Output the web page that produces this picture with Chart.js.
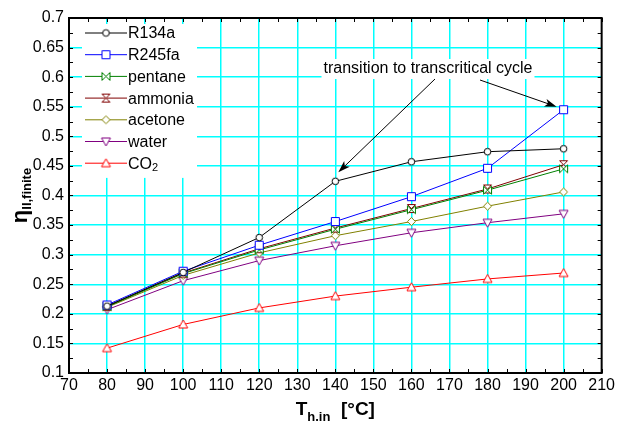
<!DOCTYPE html>
<html><head><meta charset="utf-8">
<script src="https://cdn.jsdelivr.net/npm/chart.js@4"></script>
<style>html,body{margin:0;padding:0;background:#fff}</style>
</head><body>
<canvas id="ch1" width="618" height="425"></canvas>
<script>
// data
var temps = [80, 100, 120, 140, 160, 180, 200];
var names = ['R134a', 'R245fa', 'pentane', 'ammonia', 'acetone', 'water', 'CO2'];
var r134a   = [0.213, 0.270, 0.329, 0.424, 0.457, 0.474, 0.479];
var r245fa  = [0.215, 0.272, 0.316, 0.356, 0.398, 0.446, 0.545];
var pentane = [0.212, 0.268, 0.308, 0.343, 0.376, 0.409, 0.445];
var ammonia = [0.213, 0.269, 0.310, 0.345, 0.378, 0.411, 0.452];
var acetone = [0.211, 0.265, 0.303, 0.332, 0.356, 0.382, 0.406];
var water   = [0.207, 0.256, 0.290, 0.315, 0.337, 0.354, 0.369];
var co2     = [0.142, 0.182, 0.210, 0.230, 0.245, 0.259, 0.269];
var series = [r134a, r245fa, pentane, ammonia, acetone, water, co2];
var colors = ['#000000', '#0000ff', '#008000', '#800000', '#808000', '#800080', '#ff0000'];
var shapes = ['circle', 'square', 'bowtie', 'hourglass', 'diamond', 'down', 'up'];
var xTicks = [70, 210, 10];
var yTicks = [0.1, 0.7, 0.05];
var noteText = 'transition to transcritical cycle';

// marker pictures, used both on the lines and in the legend
function makeMarker(shape, color) {
  var c = document.createElement('canvas');
  c.width = 13; c.height = 13;
  var g = c.getContext('2d');
  g.strokeStyle = color; g.fillStyle = '#fff'; g.lineWidth = 1;
  g.beginPath();
  var m = 6.5;
  if (shape == 'circle') { g.arc(m, m, 3.3, 0, Math.PI * 2); }
  else if (shape == 'square') { g.rect(m - 4, m - 4, 8, 8); }
  else if (shape == 'diamond') { g.moveTo(m, m - 4); g.lineTo(m + 4, m); g.lineTo(m, m + 4); g.lineTo(m - 4, m); g.closePath(); }
  else if (shape == 'up') { g.moveTo(m, m - 4.5); g.lineTo(m + 4.5, m + 3.5); g.lineTo(m - 4.5, m + 3.5); g.closePath(); }
  else if (shape == 'down') { g.moveTo(m, m + 4.5); g.lineTo(m + 4.5, m - 3.5); g.lineTo(m - 4.5, m - 3.5); g.closePath(); }
  else if (shape == 'bowtie') { g.moveTo(m - 4, m - 4); g.lineTo(m + 4, m + 4); g.lineTo(m + 4, m - 4); g.lineTo(m - 4, m + 4); g.closePath(); }
  else if (shape == 'hourglass') { g.moveTo(m - 4, m - 4); g.lineTo(m + 4, m - 4); g.lineTo(m - 4, m + 4); g.lineTo(m + 4, m + 4); g.closePath(); }
  g.fill(); g.stroke();
  return c;
}

var markers = [];
var datasets = [];
for (var i = 0; i < names.length; i++) {
  markers.push(makeMarker(shapes[i], colors[i]));
  var pts = [];
  for (var j = 0; j < temps.length; j++) pts.push({x: temps[j], y: series[i][j]});
  datasets.push({
    label: names[i], data: pts,
    borderColor: colors[i], borderWidth: 1,
    pointStyle: markers[i], pointRadius: 5, pointHoverRadius: 5
  });
}

function edgeGrid(ctx) { // hide grid on the frame lines
  var s = ctx.scale;
  if (ctx.tick && (ctx.tick.value <= s.min + 1e-9 || ctx.tick.value >= s.max - 1e-9)) return 'rgba(0,0,0,0)';
  return '#00ffff';
}

function drawSubText(ctx, parts, x, y, align) {
  // parts: [text, font, dy]
  var w = 0;
  parts.forEach(function(p){ ctx.font = p[1]; w += ctx.measureText(p[0]).width; });
  var sx = align == 'center' ? x - w / 2 : x;
  ctx.textAlign = 'left';
  parts.forEach(function(p){ ctx.font = p[1]; ctx.fillText(p[0], sx, y + p[2]); sx += ctx.measureText(p[0]).width; });
}

function arrow(ctx, x1, y1, x2, y2) {
  var a = Math.atan2(y2 - y1, x2 - x1);
  ctx.beginPath(); ctx.moveTo(x1, y1); ctx.lineTo(x2 - 8 * Math.cos(a), y2 - 8 * Math.sin(a)); ctx.stroke();
  ctx.beginPath();
  ctx.moveTo(x2, y2);
  ctx.lineTo(x2 - 12 * Math.cos(a) + 4 * Math.sin(a), y2 - 12 * Math.sin(a) - 4 * Math.cos(a));
  ctx.lineTo(x2 - 9 * Math.cos(a), y2 - 9 * Math.sin(a));
  ctx.lineTo(x2 - 12 * Math.cos(a) - 4 * Math.sin(a), y2 - 12 * Math.sin(a) + 4 * Math.cos(a));
  ctx.closePath(); ctx.fill();
}

var extras = {
  id: 'extras',
  afterDraw: function(chart) {
    var ctx = chart.ctx, a = chart.chartArea;
    var xs = chart.scales.x, ys = chart.scales.y;
    ctx.save();
    ctx.strokeStyle = '#000'; ctx.fillStyle = '#000';
    // small ticks inward on all four sides
    ctx.lineWidth = 1;
    ctx.beginPath();
    for (var v = xTicks[0]; v <= xTicks[1] + 1e-9; v += xTicks[2] / 2) {
      var px = Math.round(xs.getPixelForValue(v)) + 0.5;
      ctx.moveTo(px, a.bottom); ctx.lineTo(px, a.bottom - 4);
      ctx.moveTo(px, a.top); ctx.lineTo(px, a.top + 4);
    }
    for (var v = yTicks[0]; v <= yTicks[1] + 1e-9; v += yTicks[2] / 2) {
      var py = Math.round(ys.getPixelForValue(v)) + 0.5;
      ctx.moveTo(a.left, py); ctx.lineTo(a.left + 4, py);
      ctx.moveTo(a.right, py); ctx.lineTo(a.right - 4, py);
    }
    ctx.stroke();
    ctx.lineWidth = 2;
    ctx.strokeRect(a.left, a.top, a.right - a.left, a.bottom - a.top);

    // legend
    var lx = a.left + 16, ly = a.top + 15, step = 21.7;
    ctx.fillStyle = '#fff';
    ctx.fillRect(lx - 3, ly - 9, 115, step * names.length + 2);
    ctx.textBaseline = 'middle';
    for (var i = 0; i < names.length; i++) {
      var yy = ly + i * step;
      ctx.strokeStyle = colors[i]; ctx.lineWidth = 1;
      ctx.beginPath(); ctx.moveTo(lx, yy); ctx.lineTo(lx + 42, yy); ctx.stroke();
      ctx.drawImage(markers[i], lx + 21 - 6.5, yy - 6.5);
      ctx.fillStyle = '#000';
      if (names[i] == 'CO2') drawSubText(ctx, [['CO', '16px "Liberation Sans"', 1], ['2', '11px "Liberation Sans"', 5]], lx + 43, yy, 'left');
      else drawSubText(ctx, [[names[i], '16px "Liberation Sans"', 1]], lx + 43, yy, 'left');
    }

    // note with arrows
    ctx.font = '16px "Liberation Sans"';
    var tx = 428, ty = 69;
    var tw = ctx.measureText(noteText).width;
    ctx.fillStyle = '#fff';
    ctx.fillRect(tx - tw / 2 - 2, ty - 10, tw + 4, 20);
    ctx.fillStyle = '#000'; ctx.textAlign = 'center';
    ctx.fillText(noteText, tx, ty);
    ctx.strokeStyle = '#000'; ctx.lineWidth = 1;
    var p1x = xs.getPixelForValue(temps[3]), p1y = ys.getPixelForValue(r134a[3]);
    var p2x = xs.getPixelForValue(temps[6]), p2y = ys.getPixelForValue(r245fa[6]);
    arrow(ctx, 435, 79, p1x + 3, p1y - 9);
    arrow(ctx, 480, 80, p2x - 7, p2y - 3);

    // axis titles
    ctx.fillStyle = '#000'; ctx.textBaseline = 'alphabetic';
    drawSubText(ctx, [['T', 'bold 19px "Liberation Sans"', 0], ['h.in', 'bold 13px "Liberation Sans"', 6], ['  [\u00B0C]', 'bold 19px "Liberation Sans"', 0]], (a.left + a.right) / 2, 415, 'center');
    ctx.translate(27, (a.top + a.bottom) / 2);
    ctx.rotate(-Math.PI / 2);
    drawSubText(ctx, [['\u03B7', 'bold 22px "Liberation Sans"', 0], ['II,finite', 'bold 13px "Liberation Sans"', 4]], 0, 0, 'center');
    ctx.restore();
  }
};

var chart = new Chart(document.getElementById('ch1').getContext('2d'), {
  type: 'line',
  data: { datasets: datasets },
  options: {
    responsive: false, animation: false,
    layout: { padding: { top: 18, right: 16, left: 0, bottom: 0 } },
    plugins: { legend: { display: false }, tooltip: { enabled: false } },
    scales: {
      x: {
        type: 'linear', min: xTicks[0], max: xTicks[1],
        ticks: { stepSize: xTicks[2], color: '#000', font: { family: 'Liberation Sans', size: 16 }, padding: 3, maxRotation: 0 },
        grid: { color: edgeGrid, lineWidth: 1.5, drawTicks: false },
        border: { display: false },
        afterFit: function(s) { s.height = 52; }
      },
      y: {
        min: yTicks[0], max: yTicks[1],
        ticks: { stepSize: yTicks[2], color: '#000', font: { family: 'Liberation Sans', size: 16 }, padding: 5,
          callback: function(v) { return String(+v.toFixed(3)); } },
        grid: { color: edgeGrid, lineWidth: 1.5, drawTicks: false },
        border: { display: false },
        afterFit: function(s) { s.width = 69; }
      }
    }
  },
  plugins: [extras]
});
</script>
</body></html>
